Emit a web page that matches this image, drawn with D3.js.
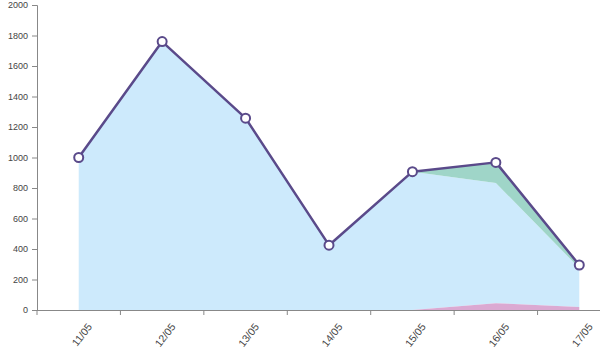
<!DOCTYPE html>
<html>
<head>
<meta charset="utf-8">
<script src="https://cdn.jsdelivr.net/npm/d3@7"></script>
<style>
  html, body { margin: 0; padding: 0; background: #fff; }
  svg { display: block; }
  .axis text { font-family: "Liberation Sans", Arial, sans-serif; font-size: 9px; fill: #444; }
  .axis.x text { font-size: 10.5px; }
  .axis path, .axis line { stroke: #888; }
</style>
</head>
<body>
<svg id="chart" width="600" height="360"></svg>
<script>
const categories = ["11/05", "12/05", "13/05", "14/05", "15/05", "16/05", "17/05"];
const pinkValues  = [0, 0, 0, 0, 0, 45, 20];
const blueValues  = [1000, 1760, 1258, 425, 907, 788, 255];
const greenValues = [0, 0, 0, 0, 0, 135, 20];
const yTicks = [0, 200, 400, 600, 800, 1000, 1200, 1400, 1600, 1800, 2000];

const svg = d3.select("#chart");
const x = d3.scaleBand().domain(categories).range([37, 621]).padding(0);
const y = d3.scaleLinear().domain([0, 2000]).range([310, 5]);
const cx = d => x(d) + x.bandwidth() / 2;

const rows = categories.map((c, i) => ({ cat: c, pink: pinkValues[i], blue: blueValues[i], green: greenValues[i] }));
const stack = d3.stack().keys(["pink", "blue", "green"]);
const series = stack(rows);
const colors = { pink: "#dba9d2", blue: "#cdeafc", green: "#9fd5c8" };

const area = d3.area()
  .x(d => cx(d.data.cat))
  .y0(d => y(d[0]))
  .y1(d => y(d[1]));

["blue", "green", "pink"].forEach(k => {
  const s = series.find(s => s.key === k);
  svg.append("path").datum(s).attr("d", area).attr("fill", colors[k]);
});

svg.append("g").attr("class", "axis y").attr("transform", "translate(37,0)")
  .call(d3.axisLeft(y).tickValues(yTicks).tickSize(5).tickPadding(4).tickFormat(d3.format("d")));

const xAxis = svg.append("g").attr("class", "axis x").attr("transform", "translate(0,310)")
  .call(d3.axisBottom(x).tickSize(5).tickSizeOuter(0));
xAxis.selectAll(".tick line").attr("transform", `translate(${-x.bandwidth() / 2},0)`);
xAxis.select(".domain").attr("d", "M32,0.5H600");
xAxis.selectAll(".tick text")
  .attr("text-anchor", "end")
  .attr("x", 0).attr("y", 0).attr("dy", 0)
  .attr("transform", "translate(14,17) rotate(-52)");

const totals = categories.map((c, i) => ({ cat: c, v: pinkValues[i] + blueValues[i] + greenValues[i] }));
const line = d3.line().x(d => cx(d.cat)).y(d => y(d.v));
svg.append("path").datum(totals).attr("d", line)
  .attr("fill", "none").attr("stroke", "#5a4a8a").attr("stroke-width", 2.5).attr("stroke-linejoin", "round");
svg.selectAll("circle.pt").data(totals).enter().append("circle")
  .attr("class", "pt")
  .attr("cx", d => cx(d.cat)).attr("cy", d => y(d.v)).attr("r", 4.5)
  .attr("fill", "#fff").attr("stroke", "#5a4a8a").attr("stroke-width", 2);
</script>
</body>
</html>
